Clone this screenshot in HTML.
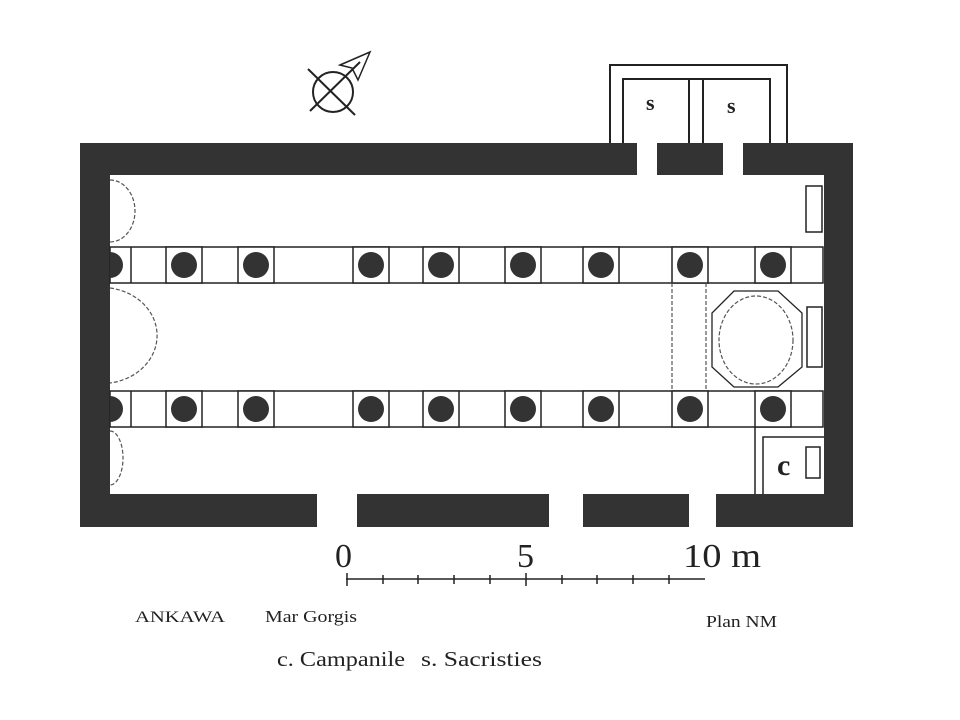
<!DOCTYPE html>
<html><head><meta charset="utf-8"><style>
html,body{margin:0;padding:0;background:#fff;width:960px;height:720px;overflow:hidden}
svg{display:block}
text{font-family:"Liberation Serif",serif;fill:#222}
</style></head><body>
<svg width="960" height="720" viewBox="0 0 960 720" xmlns="http://www.w3.org/2000/svg">
<rect width="960" height="720" fill="#fff"/>
<!-- north sign -->
<g stroke="#222" stroke-width="2" fill="none">
<circle cx="333" cy="92" r="20"/>
<line x1="308" y1="69" x2="355" y2="115"/>
<line x1="310" y1="111" x2="360" y2="62"/>
<path d="M340 65 L370 52 L358 80 L352 68 Z" stroke-width="1.5"/>
</g>
<!-- sacristies -->
<g stroke="#222" stroke-width="2" fill="none">
<path d="M610 143 V65 H787 V143"/>
<path d="M623 143 V79 H770 V143"/>
<line x1="689" y1="79" x2="689" y2="143"/>
<line x1="703" y1="79" x2="703" y2="143"/>
</g>
<text x="646" y="110" font-size="22" font-weight="bold">s</text>
<text x="727" y="113" font-size="22" font-weight="bold">s</text>
<!-- walls -->
<g fill="#333">
<rect x="80" y="143" width="557" height="32"/>
<rect x="657" y="143" width="66" height="32"/>
<rect x="743" y="143" width="110" height="32"/>
<rect x="80" y="143" width="30" height="384"/>
<rect x="824" y="143" width="29" height="384"/>
<rect x="80" y="494" width="237" height="33"/>
<rect x="357" y="494" width="192" height="33"/>
<rect x="583" y="494" width="106" height="33"/>
<rect x="716" y="494" width="137" height="33"/>
</g>
<!-- colonnades -->
<g stroke="#222" stroke-width="1.5" fill="none">
<rect x="110" y="247" width="713" height="36"/>
<rect x="110" y="391" width="713" height="36"/>
<line x1="131" y1="247" x2="131" y2="283"/>
<line x1="131" y1="391" x2="131" y2="427"/>
</g>
<g>
<g stroke="#222" stroke-width="1.5" fill="#fff">
<rect x="166" y="247" width="36" height="36"/><rect x="238" y="247" width="36" height="36"/>
<rect x="353" y="247" width="36" height="36"/><rect x="423" y="247" width="36" height="36"/>
<rect x="505" y="247" width="36" height="36"/><rect x="583" y="247" width="36" height="36"/>
<rect x="672" y="247" width="36" height="36"/><rect x="755" y="247" width="36" height="36"/>
<rect x="166" y="391" width="36" height="36"/><rect x="238" y="391" width="36" height="36"/>
<rect x="353" y="391" width="36" height="36"/><rect x="423" y="391" width="36" height="36"/>
<rect x="505" y="391" width="36" height="36"/><rect x="583" y="391" width="36" height="36"/>
<rect x="672" y="391" width="36" height="36"/><rect x="755" y="391" width="36" height="36"/>
</g>
<g fill="#333">
<circle cx="184" cy="265" r="13"/><circle cx="256" cy="265" r="13"/><circle cx="371" cy="265" r="13"/><circle cx="441" cy="265" r="13"/>
<circle cx="523" cy="265" r="13"/><circle cx="601" cy="265" r="13"/><circle cx="690" cy="265" r="13"/><circle cx="773" cy="265" r="13"/>
<circle cx="184" cy="409" r="13"/><circle cx="256" cy="409" r="13"/><circle cx="371" cy="409" r="13"/><circle cx="441" cy="409" r="13"/>
<circle cx="523" cy="409" r="13"/><circle cx="601" cy="409" r="13"/><circle cx="690" cy="409" r="13"/><circle cx="773" cy="409" r="13"/>
<path d="M110 252 A13 13 0 0 1 110 278 Z"/><path d="M110 396 A13 13 0 0 1 110 422 Z"/>
</g>
</g>
<!-- dashed elements -->
<g stroke="#555" stroke-width="1.2" fill="none" stroke-dasharray="4 2">
<path d="M110 180 A25 31 0 0 1 110 242"/>
<path d="M110 288 A55 48 0 0 1 110 383"/>
<path d="M110 431 A13 27 0 0 1 110 485"/>
<line x1="672" y1="283" x2="672" y2="391"/>
<line x1="706" y1="283" x2="706" y2="391"/>
<ellipse cx="756" cy="340" rx="37" ry="44"/>
</g>
<polygon points="734,291 778,291 802,313 802,367 778,387 734,387 712,367 712,313" stroke="#222" stroke-width="1.3" fill="none"/>
<g stroke="#222" stroke-width="1.5" fill="#fff">
<rect x="806" y="186" width="16" height="46"/>
<rect x="807" y="307" width="15" height="60"/>
<rect x="806" y="447" width="14" height="31"/>
</g>
<g stroke="#222" stroke-width="1.5" fill="none">
<line x1="755" y1="427" x2="755" y2="494"/>
<path d="M763 494 V437 H824"/>
</g>
<text x="777" y="475" font-size="30" font-weight="bold">c</text>
<!-- scale -->
<text x="335" y="567" font-size="34">0</text>
<text x="517" y="567" font-size="34">5</text>
<text x="683" y="567" font-size="34" textLength="78" lengthAdjust="spacingAndGlyphs">10 m</text>
<g stroke="#222" stroke-width="1.5">
<line x1="346" y1="579" x2="705" y2="579"/>
<line x1="347" y1="573" x2="347" y2="586"/><line x1="383" y1="575" x2="383" y2="584"/>
<line x1="418" y1="575" x2="418" y2="584"/><line x1="454" y1="575" x2="454" y2="584"/>
<line x1="490" y1="575" x2="490" y2="584"/><line x1="526" y1="573" x2="526" y2="586"/>
<line x1="562" y1="575" x2="562" y2="584"/><line x1="597" y1="575" x2="597" y2="584"/>
<line x1="633" y1="575" x2="633" y2="584"/><line x1="669" y1="575" x2="669" y2="584"/>
</g>
<text x="135" y="622" font-size="16" textLength="90" lengthAdjust="spacingAndGlyphs">ANKAWA</text>
<text x="265" y="622" font-size="17" textLength="92" lengthAdjust="spacingAndGlyphs">Mar Gorgis</text>
<text x="706" y="627" font-size="17" textLength="71" lengthAdjust="spacingAndGlyphs">Plan NM</text>
<text x="277" y="666" font-size="21" textLength="128" lengthAdjust="spacingAndGlyphs">c. Campanile</text>
<text x="421" y="666" font-size="21" textLength="121" lengthAdjust="spacingAndGlyphs">s. Sacristies</text>
</svg>
</body></html>
